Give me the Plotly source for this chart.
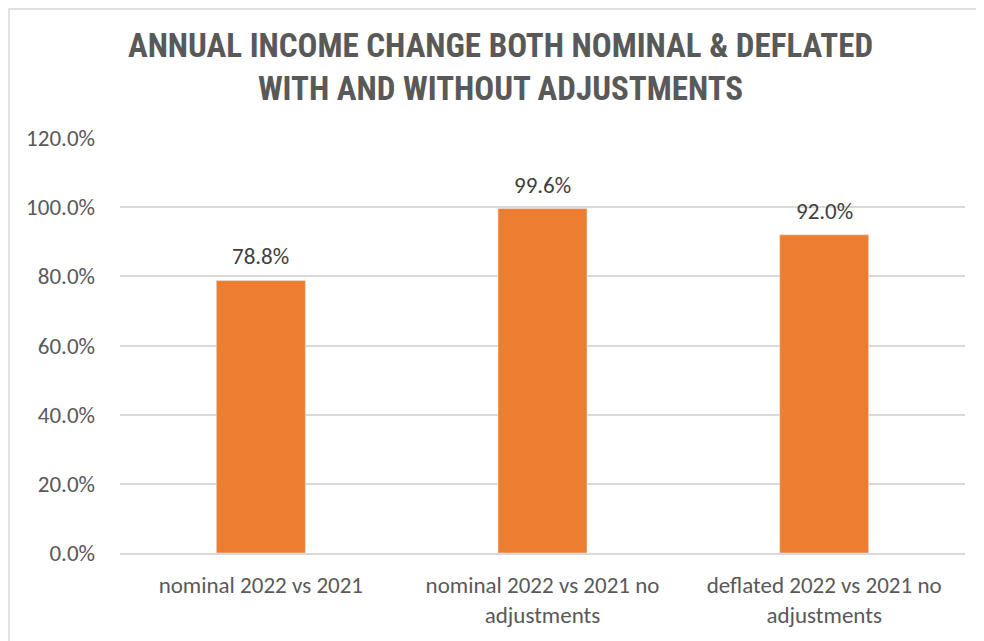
import plotly.graph_objects as go

# Chart data
categories = [
    'nominal 2022 vs 2021',
    'nominal 2022 vs 2021 no<br>adjustments',
    'deflated 2022 vs 2021 no<br>adjustments',
]
income_change = [0.788, 0.996, 0.920]
y_ticks = [0, 0.2, 0.4, 0.6, 0.8, 1.0, 1.2]

text_font = 'Carlito, Lato, "Liberation Sans", sans-serif'
grey = '#595959'

fig = go.Figure()

fig.add_trace(go.Bar(
    x=categories,
    y=income_change,
    marker_color='#ED7D31',
    width=0.316,
))

# Value labels above the bars
for cat, val in zip(categories, income_change):
    fig.add_annotation(
        x=cat, y=val,
        text=f'{val:.1%}',
        showarrow=False,
        yanchor='bottom',
        yshift=8,
        font=dict(size=23, color='#404040', family=text_font),
    )

# the page body adds an 8px margin, so the figure is 8px smaller than the window
fig.update_layout(
    width=976,
    height=633,
    plot_bgcolor='white',
    paper_bgcolor='white',
    margin=dict(l=112, r=19, t=130, b=88),
    showlegend=False,
    title=dict(
        text='ANNUAL INCOME CHANGE BOTH NOMINAL & DEFLATED<br>WITH AND WITHOUT ADJUSTMENTS',
        x=0.5046,
        xanchor='center',
        y=0.922,
        yanchor='middle',
        font=dict(family='"Liberation Sans Narrow", "Roboto Condensed", sans-serif',
                  size=33, color=grey, weight='bold'),
    ),
    xaxis=dict(
        showline=True,
        linecolor='#d9d9d9',
        linewidth=1.5,
        tickfont=dict(size=23, color=grey, family=text_font),
        ticklabelstandoff=11,
        fixedrange=True,
    ),
    yaxis=dict(
        range=[0, 1.2],
        tickvals=y_ticks,
        tickformat='.1%',
        showgrid=True,
        gridcolor='#d9d9d9',
        gridwidth=1.5,
        zeroline=False,
        tickfont=dict(size=23, color=grey, family=text_font),
        ticklabelstandoff=24,
    ),
)

# Outer chart border
fig.add_shape(
    type='rect',
    xref='paper', yref='paper',
    x0=-0.1314, x1=1.05, y0=-0.25, y1=1.3108,
    line=dict(color='#d9d9d9', width=1.5),
    fillcolor='rgba(0,0,0,0)',
    layer='below',
)

fig.write_html('out.html')
